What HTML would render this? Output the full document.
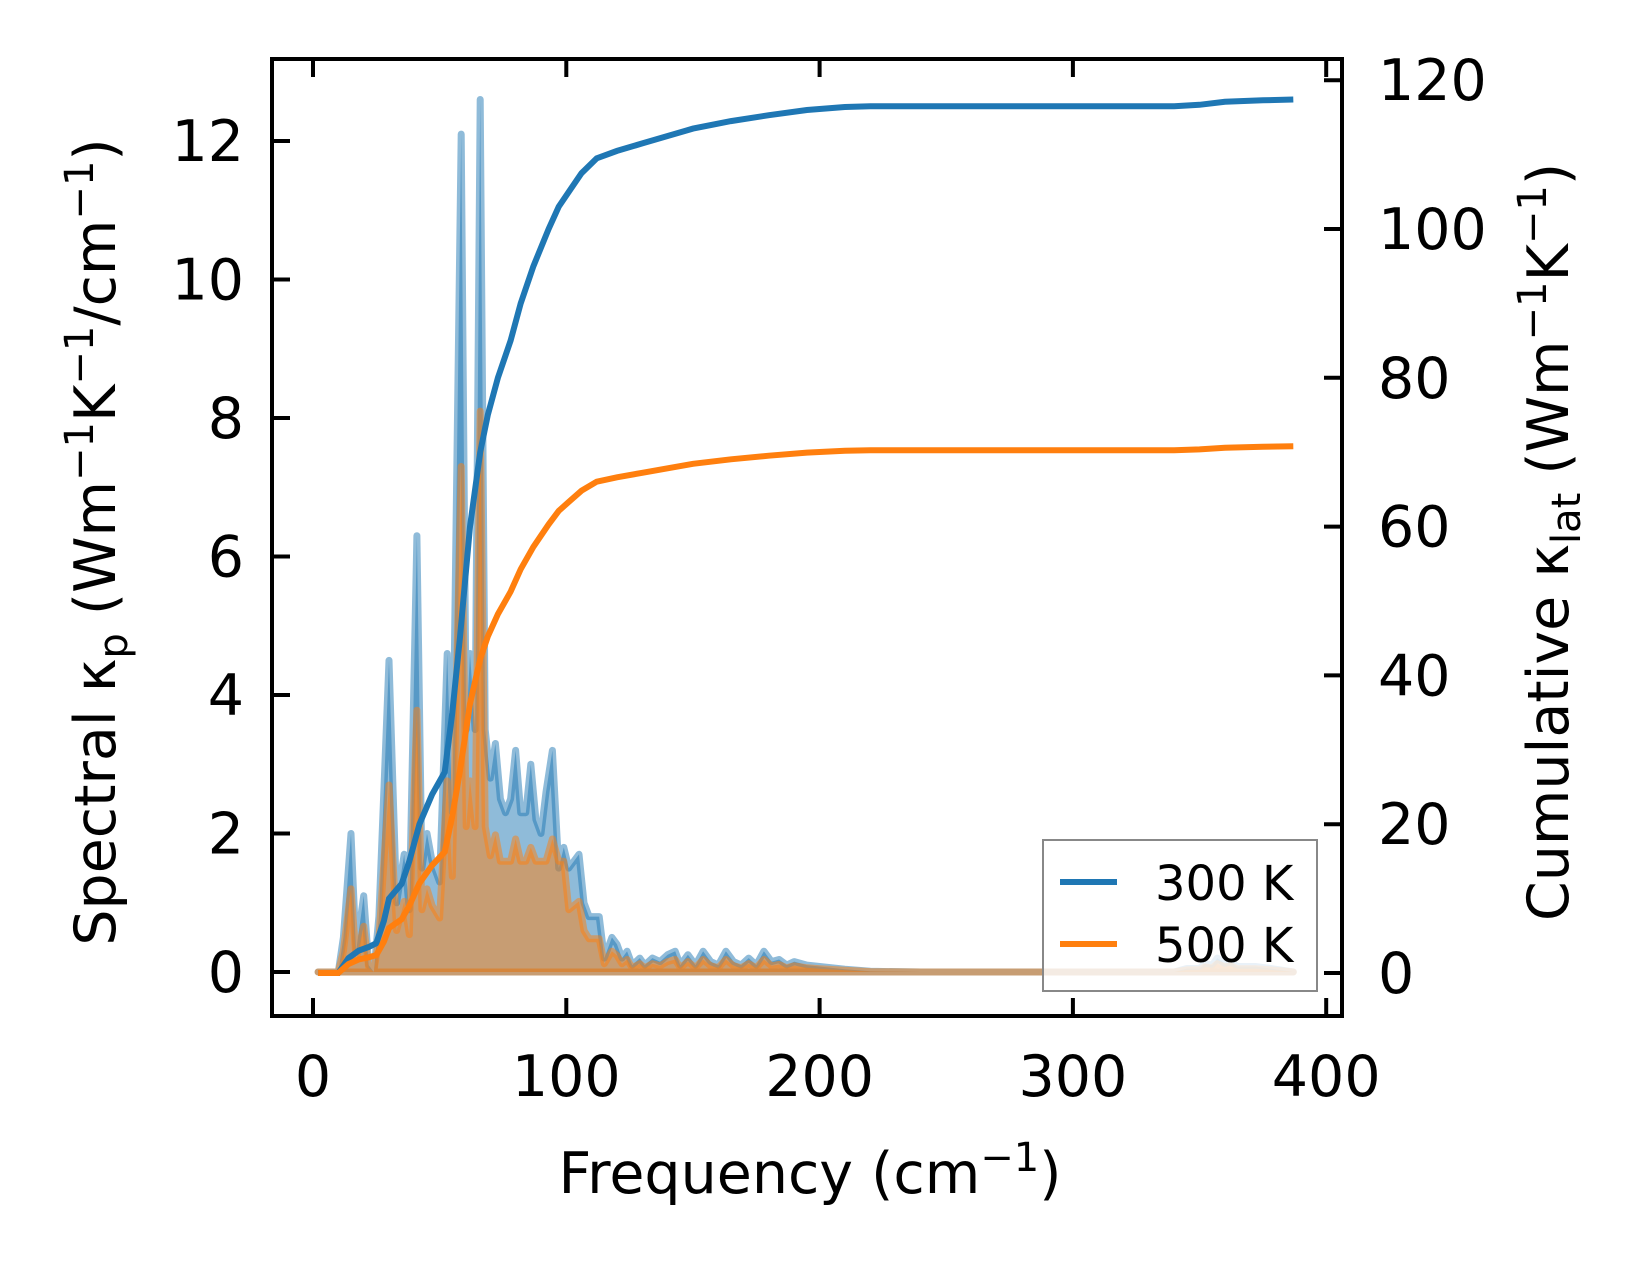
<!DOCTYPE html>
<html><head><meta charset="utf-8"><style>
html,body{margin:0;padding:0;background:#fff;}
svg{display:block;font-family:"DejaVu Sans","Liberation Sans",sans-serif;}
</style></head><body>
<svg id="s" width="1642" height="1264" viewBox="0 0 1642 1264" xmlns="http://www.w3.org/2000/svg">
<rect width="1642" height="1264" fill="#fff"/>
<g id="plot"></g>
<rect x="272" y="59" width="1070" height="957" fill="none" stroke="#000" stroke-width="4"/>
<g id="ticks" stroke="#000" stroke-width="4"></g>
<g font-size="57" fill="#000" id="labels"></g>
<text x="810" y="1193" font-size="57" text-anchor="middle">Frequency (cm<tspan dy="-22" font-size="40">−1</tspan><tspan dy="22">)</tspan></text>
<text transform="translate(115,542) rotate(-90)" font-size="57" text-anchor="middle">Spectral κ<tspan dy="12" font-size="40">p</tspan><tspan dy="-12"> (Wm</tspan><tspan dy="-22" font-size="40">−1</tspan><tspan dy="22">K</tspan><tspan dy="-22" font-size="40">−1</tspan><tspan dy="22">/cm</tspan><tspan dy="-22" font-size="40">−1</tspan><tspan dy="22">)</tspan></text>
<text transform="translate(1568,542) rotate(-90)" font-size="57" text-anchor="middle">Cumulative κ<tspan dy="12" font-size="40">lat</tspan><tspan dy="-12"> (Wm</tspan><tspan dy="-22" font-size="40">−1</tspan><tspan dy="22">K</tspan><tspan dy="-22" font-size="40">−1</tspan><tspan dy="22">)</tspan></text>
<rect x="1043" y="840" width="274" height="151" fill="#fff" fill-opacity="0.8" stroke="#888" stroke-width="2"/>
<line x1="1060" y1="882" x2="1117" y2="882" stroke="#1f77b4" stroke-width="6"/>
<line x1="1060" y1="944" x2="1117" y2="944" stroke="#ff7f0e" stroke-width="6"/>
<text x="1155" y="900" font-size="48">300 K</text>
<text x="1155" y="962" font-size="48">500 K</text>
</svg>
<script>
var X=function(f){return 313+f*2.533;};
var YL=function(v){return 972-v*69.25;};
var YR=function(v){return 973-v*7.44;};
var B=[[2,0],[10,0],[12,0.5],[15,2.0],[17,0.3],[20,1.1],[22,0.1],[24,0],[26,0.8],[30,4.5],[33,1.0],[36,1.7],[38,0.9],[41,6.3],[43,1.5],[45,2.0],[47,1.6],[50,1.3],[53,4.6],[55,2.3],[58.5,12.1],[60.5,3.5],[62,4.6],[64,3.5],[66,12.6],[68,3.5],[70,2.8],[72,3.3],[74,2.5],[76,2.3],[78,2.5],[80,3.2],[82,2.3],[84,2.3],[86,3.0],[88,2.2],[90,2.0],[92,2.6],[94.5,3.2],[97,1.5],[99,1.8],[101,1.5],[103,1.6],[105,1.7],[107,1.0],[109,0.8],[111,0.8],[113,0.8],[115,0.2],[118,0.5],[120,0.4],[122,0.2],[124,0.3],[126,0.1],[129,0.2],[131,0.1],[134,0.2],[137,0.15],[140,0.25],[143,0.3],[145,0.1],[148,0.25],[151,0.1],[154,0.3],[157,0.15],[160,0.1],[163,0.3],[166,0.15],[169,0.1],[172,0.2],[175,0.1],[178,0.3],[181,0.15],[184,0.18],[187,0.1],[190,0.15],[195,0.1],[200,0.08],[210,0.04],[220,0.01],[240,0],[340,0],[345,0.05],[350,0.05],[352,0.12],[355,0.1],[357,0.2],[360,0.12],[362,0.15],[365,0.08],[372,0.08],[378,0.05],[387,0]];
var O=B.map(function(p){var v=p[1]*0.6;if(p[0]==66)v=8.1;if(p[0]==58.5)v=7.3;if(p[0]>=70&&p[0]<100)v=Math.max(v,1.6);return [p[0],v];});
var CB=[[2,0],[10,0],[14,2],[18,3],[22,3.5],[25,4],[28,7],[30,10],[35,12],[38,15],[42,20],[47,24],[52,27],[55,35],[58,45],[62,60],[66,70],[69,75],[73,80],[78,85],[82,90],[87,95],[93,100],[97,103],[101,105],[106,107.5],[112,109.5],[120,110.5],[130,111.5],[140,112.5],[150,113.5],[165,114.5],[180,115.3],[195,116],[210,116.4],[220,116.5],[340,116.5],[350,116.7],[360,117.1],[375,117.3],[387,117.4]];
var CO=CB.map(function(p){return [p[0],p[1]*0.603];});
function pts(d,Y){return d.map(function(p){return X(p[0]).toFixed(1)+","+Y(p[1]).toFixed(1);}).join(" ");}
var g=document.getElementById("plot"),h="";
function spec(d,c){var s=pts(d,YL);h+='<polygon points="'+X(d[0][0])+','+YL(0)+' '+s+' '+X(d[d.length-1][0])+','+YL(0)+'" fill="'+c+'" fill-opacity="0.5" stroke="'+c+'" stroke-opacity="0.5" stroke-width="7" stroke-linejoin="round"/>';}
spec(B,"#1f77b4");spec(O,"#ff7f0e");
h+='<polyline points="'+pts(CB,YR)+'" fill="none" stroke="#1f77b4" stroke-width="6"/>';
h+='<polyline points="'+pts(CO,YR)+'" fill="none" stroke="#ff7f0e" stroke-width="6"/>';
g.innerHTML=h;
var t="",l="";
[0,100,200,300,400].forEach(function(f){var x=X(f);t+='<line x1="'+x+'" y1="1016" x2="'+x+'" y2="998"/><line x1="'+x+'" y1="59" x2="'+x+'" y2="77"/>';l+='<text x="'+x+'" y="1096" text-anchor="middle">'+f+'</text>';});
[0,2,4,6,8,10,12].forEach(function(v){var y=YL(v);t+='<line x1="272" y1="'+y+'" x2="290" y2="'+y+'"/>';l+='<text x="244" y="'+(y+20)+'" text-anchor="end">'+v+'</text>';});
[0,20,40,60,80,100,120].forEach(function(v){var y=YR(v);t+='<line x1="1342" y1="'+y+'" x2="1324" y2="'+y+'"/>';l+='<text x="1378" y="'+(y+20)+'">'+v+'</text>';});
document.getElementById("ticks").innerHTML=t;document.getElementById("labels").innerHTML=l;
</script>
</body></html>
